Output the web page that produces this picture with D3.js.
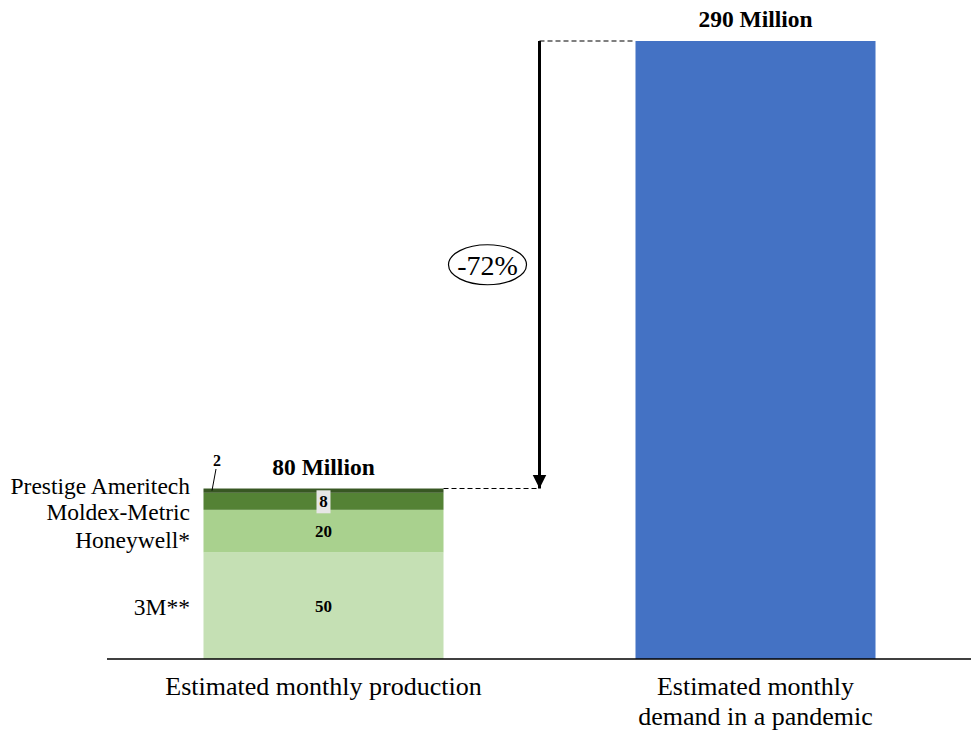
<!DOCTYPE html>
<html>
<head>
<meta charset="utf-8">
<script src="https://cdn.jsdelivr.net/npm/d3@7"></script>
<style>
  body { margin: 0; background: #fff; }
  text { font-family: "Liberation Serif", "Times New Roman", serif; fill: #000; }
</style>
</head>
<body>
<div class="chart"></div>
<script>
const categories = ['Estimated monthly production', 'Estimated monthly demand in a pandemic'];
const manufacturers = ['3M**', 'Honeywell*', 'Moldex-Metric', 'Prestige Ameritech'];
const production = [50, 20, 8, 2];
const demand = 290;
const totalLabels = ['80 Million', '290 Million'];
const changeLabel = '-72%';

const segColors = ['#c5e0b4', '#a9d18e', '#548235', '#385723'];
const labelNudge = [1, 9, 10, -5];

const width = 971;
const height = 735;
const svg = d3.select('.chart')
    .append('svg')
    .attr('width', width)
    .attr('height', height)

const x = d3.scaleBand()
    .domain(categories)
    .range([107.5, 971.5])
    .paddingInner(0.4444)
    .paddingOuter(0.2222)

const y = d3.scaleLinear()
    .domain([0, 290])
    .range([659, 41])

const tops = d3.cumsum(production);
const segs = production.map((v, i) => ({ name: manufacturers[i], v, y0: tops[i] - v, y1: tops[i] }));
const total = tops[tops.length - 1];

// stacked production bar
svg.selectAll('.seg')
    .data(segs)
    .enter()
    .append('rect')
    .attr('x', x(categories[0]))
    .attr('width', x.bandwidth())
    .attr('y', d => y(d.y1))
    .attr('height', d => y(d.y0) - y(d.y1))
    .attr('fill', (d, i) => segColors[i])

// demand bar
svg.append('rect')
    .attr('x', x(categories[1]))
    .attr('width', x.bandwidth())
    .attr('y', y(demand))
    .attr('height', y(0) - y(demand))
    .attr('fill', '#4472c4')

// baseline
svg.append('line')
    .attr('x1', 107).attr('x2', 971)
    .attr('y1', y(0)).attr('y2', y(0))
    .attr('stroke', '#000').attr('stroke-width', 1.5)

// manufacturer labels
svg.selectAll('.mlabel')
    .data(segs)
    .enter()
    .append('text')
    .attr('x', 190)
    .attr('y', (d, i) => (y(d.y0) + y(d.y1)) / 2 + labelNudge[i])
    .attr('dy', '0.35em')
    .attr('text-anchor', 'end')
    .attr('font-size', 23.5)
    .text(d => d.name)

// value labels inside bar
const cx0 = x(categories[0]) + x.bandwidth() / 2;
const inside = segs.filter(d => d.v >= 8);
inside.forEach(d => {
    const cy = (y(d.y0) + y(d.y1)) / 2;
    if (d.v < 10) {
        svg.append('rect')
            .attr('x', cx0 - 7).attr('width', 14)
            .attr('y', cy - 11).attr('height', 23)
            .attr('fill', '#e7e6e6')
    }
    svg.append('text')
        .attr('x', cx0)
        .attr('y', cy)
        .attr('dy', '0.35em')
        .attr('text-anchor', 'middle')
        .attr('font-size', 17)
        .attr('font-weight', 'bold')
        .text(d.v)
})

// small segment label with leader
const small = segs[segs.length - 1];
svg.append('line')
    .attr('x1', 216).attr('y1', 469)
    .attr('x2', 212).attr('y2', y(small.y1) + 2)
    .attr('stroke', '#000').attr('stroke-width', 1)
svg.append('text')
    .attr('x', 217)
    .attr('y', 466)
    .attr('text-anchor', 'middle')
    .attr('font-size', 16)
    .attr('font-weight', 'bold')
    .text(small.v)

// totals
svg.selectAll('.total')
    .data([total, demand])
    .enter()
    .append('text')
    .attr('x', (d, i) => x(categories[i]) + x.bandwidth() / 2)
    .attr('y', d => y(d) - 14)
    .attr('text-anchor', 'middle')
    .attr('font-size', 23.5)
    .attr('font-weight', 'bold')
    .text((d, i) => totalLabels[i])

// category labels
const catLines = [['Estimated monthly production'], ['Estimated monthly', 'demand in a pandemic']];
catLines.forEach((lines, i) => {
    const t = svg.append('text')
        .attr('x', x(categories[i]) + x.bandwidth() / 2)
        .attr('y', 695)
        .attr('text-anchor', 'middle')
        .attr('font-size', 26)
    lines.forEach((l, j) => {
        t.append('tspan')
            .attr('x', x(categories[i]) + x.bandwidth() / 2)
            .attr('dy', j === 0 ? 0 : 30)
            .text(l)
    })
})

// gap arrow
const ax = (x(categories[0]) + x.bandwidth() + x(categories[1])) / 2;
svg.append('defs').append('marker')
    .attr('id', 'head')
    .attr('viewBox', '0 0 10 10')
    .attr('refX', 10).attr('refY', 5)
    .attr('markerWidth', 4.5).attr('markerHeight', 6.5)
    .attr('markerUnits', 'strokeWidth')
    .attr('orient', 'auto')
    .append('path')
    .attr('d', 'M0,0 L10,5 L0,10 Z')
    .attr('fill', '#000')

svg.append('line')
    .attr('x1', x(categories[0]) + x.bandwidth()).attr('x2', ax)
    .attr('y1', y(total)).attr('y2', y(total))
    .attr('stroke', '#000').attr('stroke-width', 1.2)
    .attr('stroke-dasharray', '5,3')
svg.append('line')
    .attr('x1', ax).attr('x2', x(categories[1]))
    .attr('y1', y(demand)).attr('y2', y(demand))
    .attr('stroke', '#000').attr('stroke-width', 1.2)
    .attr('stroke-dasharray', '5,3')
svg.append('line')
    .attr('x1', ax).attr('x2', ax)
    .attr('y1', y(demand)).attr('y2', y(total))
    .attr('stroke', '#000').attr('stroke-width', 3)
    .attr('marker-end', 'url(#head)')

// change bubble
const my = (y(demand) + y(total)) / 2;
svg.append('ellipse')
    .attr('cx', ax - 52).attr('cy', my)
    .attr('rx', 39).attr('ry', 20)
    .attr('fill', '#fff')
    .attr('stroke', '#000').attr('stroke-width', 1.2)
svg.append('text')
    .attr('x', ax - 52)
    .attr('y', my)
    .attr('dy', '0.35em')
    .attr('text-anchor', 'middle')
    .attr('font-size', 28)
    .text(changeLabel)
</script>
</body>
</html>
